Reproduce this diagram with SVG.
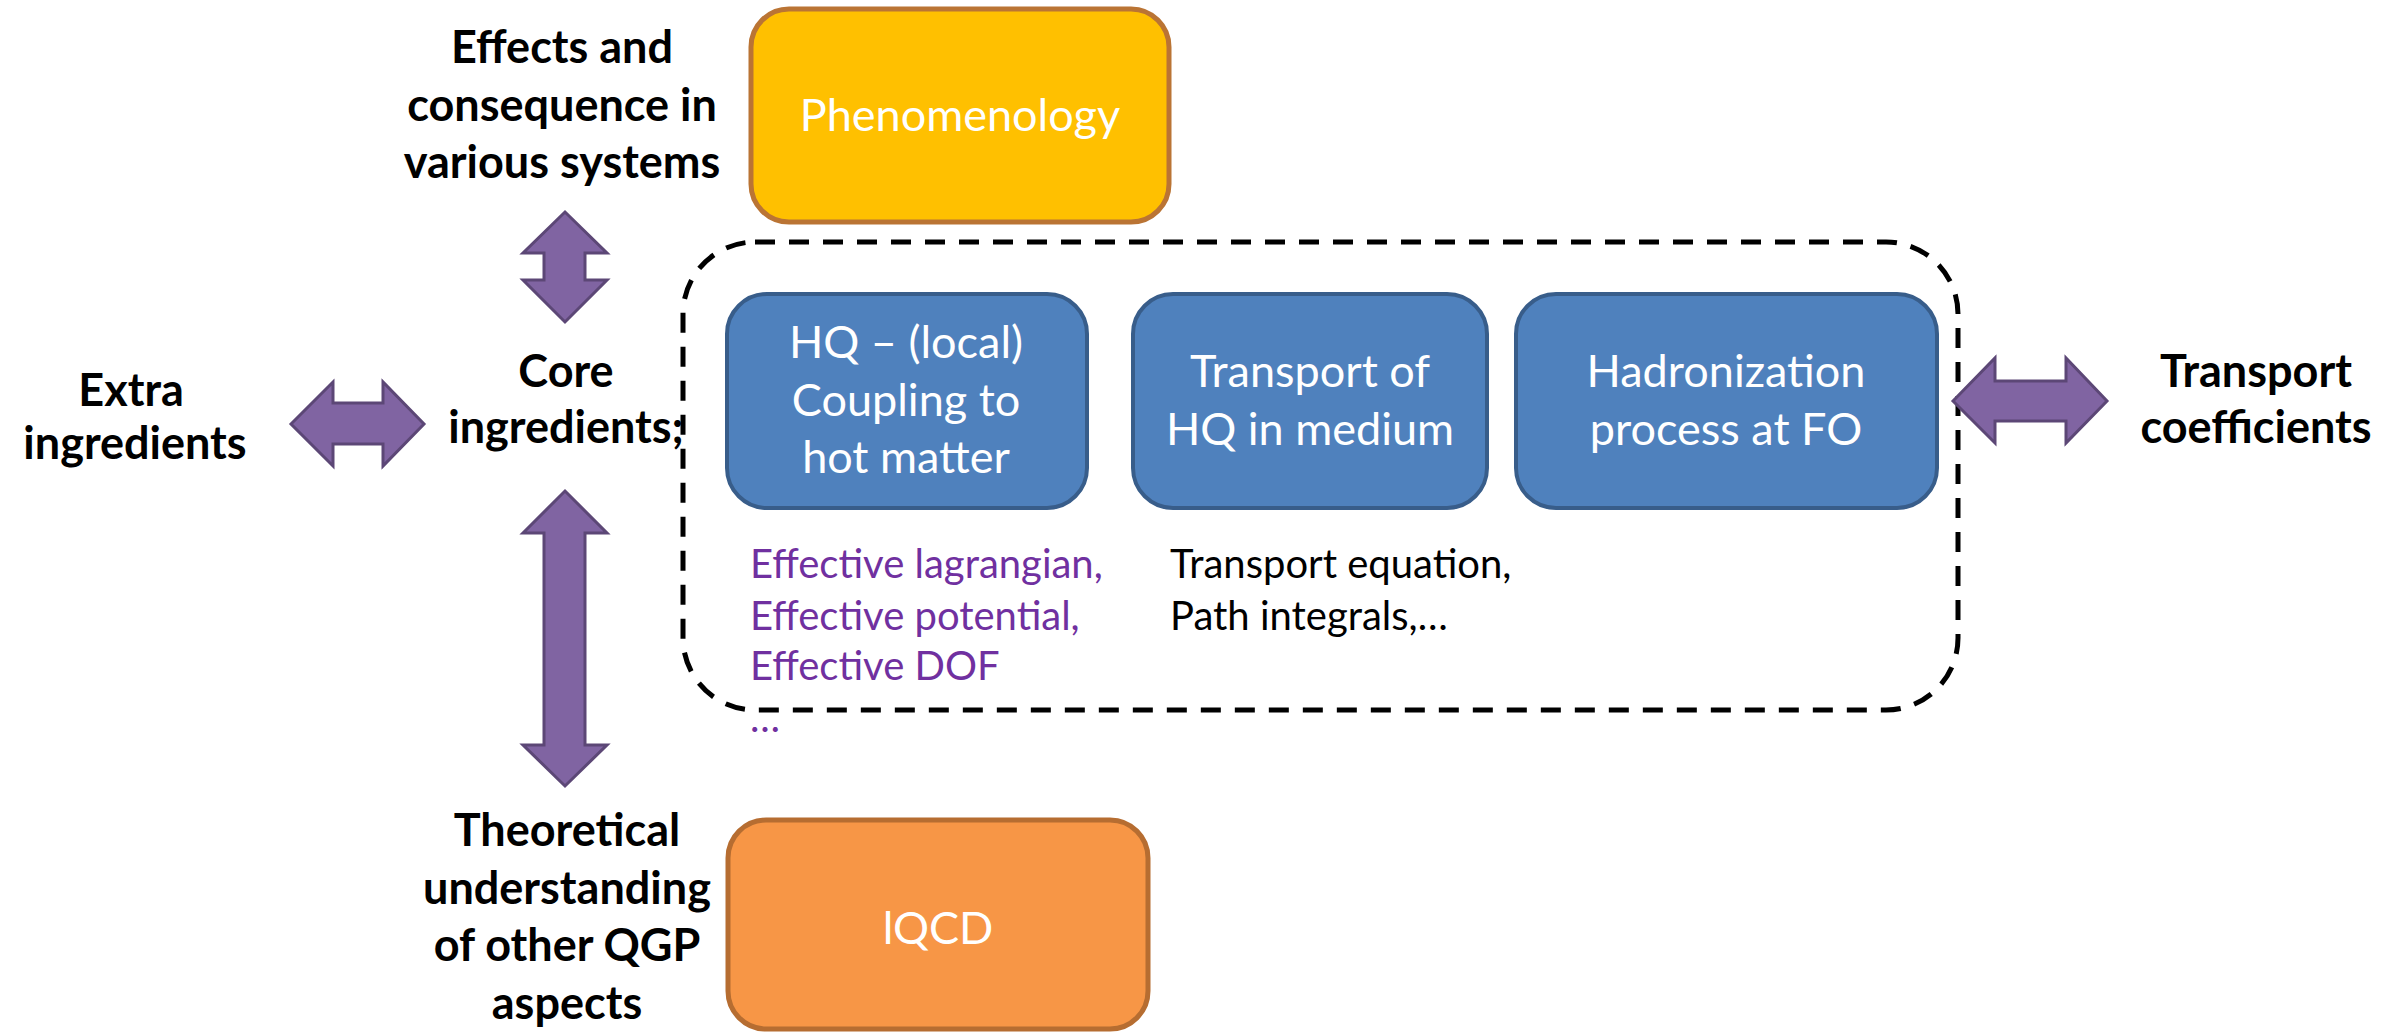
<svg xmlns="http://www.w3.org/2000/svg" width="2402" height="1034" viewBox="0 0 2402 1034">
<style>
  .lbl { font-family: Lato, "Liberation Sans", sans-serif; font-weight: bold; font-size: 45px; fill: #000; text-anchor: middle; }
  .box-txt { font-family: Lato, "Liberation Sans", sans-serif; font-size: 45px; fill: #fff; text-anchor: middle; }
  .small { font-family: Lato, "Liberation Sans", sans-serif; font-size: 40px; }
  .purple { fill: #7030A0; }
  .black { fill: #000; }
  .blue { fill: #4F81BD; stroke: #385D8A; stroke-width: 4; }
  .arrow { fill: #8064A2; stroke: #5C4776; stroke-width: 3; stroke-linejoin: miter; }
</style>
<rect width="2402" height="1034" fill="#fff"/>

<g id="core-group">
  <rect x="683" y="242" width="1275" height="468" rx="72" ry="72" fill="none" stroke="#000" stroke-width="5" stroke-dasharray="20 14"/>
</g>

<g id="connectors">
  <polygon class="arrow" points="565,212 607,253 585,253 585,280 607,280 565,322 523,280 544,280 544,253 523,253"/>
  <polygon class="arrow" points="565,491 607,533 585,533 585,745 607,745 565,786 523,745 544,745 544,533 523,533"/>
  <polygon class="arrow" points="291,424 333,382 333,403 383,403 383,382 424,424 383,466 383,444 333,444 333,466"/>
  <polygon class="arrow" points="1953,401 1995,358 1995,381 2066,381 2066,358 2107,401 2066,443 2066,421 1995,421 1995,443"/>
</g>

<g id="phenomenology">
  <rect x="751" y="9" width="418" height="213" rx="38" ry="38" fill="#FFC000" stroke="#BA7434" stroke-width="5"/>
  <text class="box-txt" x="960" y="131">Phenomenology</text>
</g>

<g id="lqcd">
  <rect x="728" y="820" width="420" height="209" rx="38" ry="38" fill="#F79646" stroke="#B66D31" stroke-width="5"/>
  <text class="box-txt" x="938" y="944">lQCD</text>
</g>

<g id="hq-coupling">
  <rect class="blue" x="727" y="294" width="360" height="214" rx="40" ry="40"/>
  <text class="box-txt" x="906" y="358">HQ – (local)</text>
  <text class="box-txt" x="906" y="416">Coupling to</text>
  <text class="box-txt" x="906" y="473">hot matter</text>
</g>

<g id="transport">
  <rect class="blue" x="1133" y="294" width="354" height="214" rx="40" ry="40"/>
  <text class="box-txt" x="1310" y="387">Transport of</text>
  <text class="box-txt" x="1310" y="445">HQ in medium</text>
</g>

<g id="hadronization">
  <rect class="blue" x="1516" y="294" width="421" height="214" rx="40" ry="40"/>
  <text class="box-txt" x="1726" y="387">Hadronization</text>
  <text class="box-txt" x="1726" y="445">process at FO</text>
</g>

<g id="effects-label">
  <text class="lbl" x="562" y="63">Effects and</text>
  <text class="lbl" x="562" y="121">consequence in</text>
  <text class="lbl" x="562" y="178">various systems</text>
</g>

<g id="core-label">
  <text class="lbl" x="566" y="387">Core</text>
  <text class="lbl" x="566" y="443">ingredients;</text>
</g>

<g id="extra-label">
  <text class="lbl" x="131" y="406">Extra</text>
  <text class="lbl" x="135" y="459">ingredients</text>
</g>

<g id="transport-coeff-label">
  <text class="lbl" x="2256" y="387">Transport</text>
  <text class="lbl" x="2256" y="443">coefficients</text>
</g>

<g id="theory-label">
  <text class="lbl" x="567" y="846">Theoretical</text>
  <text class="lbl" x="567" y="904">understanding</text>
  <text class="lbl" x="567" y="961">of other QGP</text>
  <text class="lbl" x="567" y="1019">aspects</text>
</g>

<g id="hq-notes">
  <text class="small purple" x="750" y="578">Effective lagrangian,</text>
  <text class="small purple" x="750" y="630">Effective potential,</text>
  <text class="small purple" x="750" y="680">Effective DOF</text>
  <text class="small purple" x="750" y="732">…</text>
</g>

<g id="transport-notes">
  <text class="small black" x="1170" y="578">Transport equation,</text>
  <text class="small black" x="1170" y="630">Path integrals,…</text>
</g>
</svg>
